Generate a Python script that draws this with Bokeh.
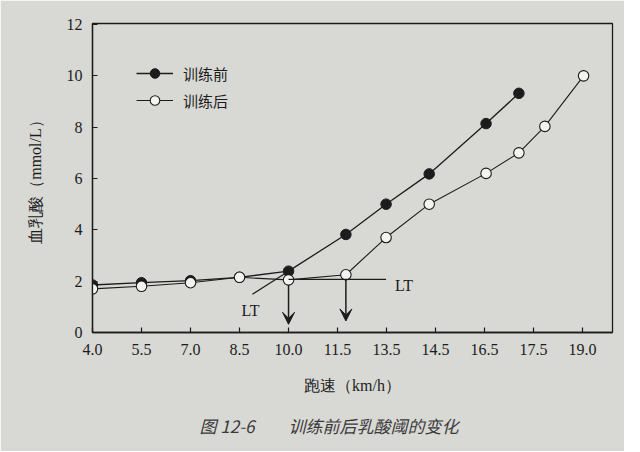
from bokeh.plotting import figure
from bokeh.models import (Range1d, FixedTicker, Legend, LegendItem, Arrow, VeeHead,
                          Title, Label)
from bokeh.embed import file_html
from bokeh.resources import INLINE

# ---- data (x given in tick-slot units; tick labels are the running speeds) ----
speed_labels = ["4.0", "5.5", "7.0", "8.5", "10.0", "11.5", "13.5", "14.5", "16.5", "17.5", "19.0"]
before_x = [0, 1, 2, 3, 4, 5.17, 5.99, 6.87, 8.03, 8.70]
before_y = [1.85, 1.94, 2.02, 2.15, 2.39, 3.82, 5.0, 6.18, 8.14, 9.32]
after_x = [0, 1, 2, 3, 4, 5.17, 5.99, 6.87, 8.03, 8.70, 9.23, 10.02]
after_y = [1.70, 1.80, 1.94, 2.15, 2.05, 2.25, 3.70, 5.0, 6.2, 7.0, 8.03, 10.0]
series_names = ["训练前", "训练后"]
lt_before_idx = 4   # LT point before training (10.0 km/h)
lt_after_idx = 5    # LT point after training (11.5 km/h)

INK = "#1c1c1c"
BG = "#d8d8d4"
SERIF = "Liberation Serif"

p = figure(frame_width=520, frame_height=309, output_backend="svg", toolbar_location=None,
           x_range=Range1d(0, 10.61), y_range=Range1d(0, 12.04),
           min_border_left=92, min_border_right=12, min_border_top=23, min_border_bottom=104)
p.background_fill_color = BG
p.border_fill_color = BG
p.outline_line_color = INK
p.outline_line_width = 1.3
p.grid.visible = False

# axes
p.xaxis.ticker = FixedTicker(ticks=list(range(len(speed_labels))))
p.xaxis.major_label_overrides = {i: s for i, s in enumerate(speed_labels)}
p.yaxis.ticker = FixedTicker(ticks=[0, 2, 4, 6, 8, 10, 12])
for ax in (p.xaxis, p.yaxis):
    ax.axis_line_color = INK
    ax.axis_line_width = 1.3
    ax.major_tick_line_color = INK
    ax.major_tick_line_width = 1.2
    ax.major_tick_in = 5
    ax.major_tick_out = 0
    ax.minor_tick_line_color = None
    ax.major_label_text_font = SERIF
    ax.major_label_text_font_size = "16px"
    ax.major_label_text_color = INK
    ax.axis_label_text_font = SERIF
    ax.axis_label_text_font_size = "16px"
    ax.axis_label_text_font_style = "normal"
    ax.axis_label_text_color = INK
p.xaxis.major_label_standoff = 11
p.yaxis.major_label_standoff = 10
p.xaxis.axis_label = "跑速（km/h）"
p.yaxis.axis_label = "血乳酸（mmol/L）"
p.xaxis.axis_label_standoff = 19
p.yaxis.axis_label_standoff = 20

# series
r1l = p.line(before_x, before_y, line_color=INK, line_width=1.3)
r1m = p.scatter(before_x, before_y, marker="circle", size=10.5, fill_color=INK, line_color=INK)
r2l = p.line(after_x, after_y, line_color=INK, line_width=1.1)
r2m = p.scatter(after_x, after_y, marker="circle", size=10.5, fill_color="#f3f3f0",
                line_color=INK, line_width=1.1)

# LT construction line (before): extension of the rising segment below the LT point
i = lt_before_idx
dx = before_x[i + 1] - before_x[i]
dy = before_y[i + 1] - before_y[i]
ext = 0.63
p.line([before_x[i] - ext * dx, before_x[i]], [before_y[i] - ext * dy, before_y[i]],
       line_color=INK, line_width=1.1)
p.add_layout(Label(x=before_x[i] - ext * dx - 0.04, y=before_y[i] - ext * dy - 0.63, text="LT",
                   text_font=SERIF, text_font_size="16px", text_color=INK,
                   text_align="center", text_baseline="middle"))

# LT construction line (after): horizontal baseline
j = lt_after_idx
base_y = after_y[j - 1] + 0.02
p.line([after_x[j - 1], after_x[j + 1]], [base_y, base_y], line_color=INK, line_width=1.1)
p.add_layout(Label(x=after_x[j + 1] + 0.18, y=base_y - 0.24, text="LT",
                   text_font=SERIF, text_font_size="16px", text_color=INK,
                   text_align="left", text_baseline="middle"))

# arrows pointing to the LT speeds
for ax_, ay_, tip in ((after_x[lt_before_idx], after_y[lt_before_idx], 0.32),
                      (after_x[lt_after_idx], after_y[lt_after_idx], 0.45)):
    p.add_layout(Arrow(end=VeeHead(size=12, fill_color=INK, line_color=INK, line_width=1),
                       x_start=ax_, y_start=ay_ - 0.2, x_end=ax_, y_end=tip,
                       line_color=INK, line_width=1.5))

# legend
legend = Legend(items=[LegendItem(label=series_names[0], renderers=[r1l, r1m]),
                       LegendItem(label=series_names[1], renderers=[r2l, r2m])],
                location=(44, 220), orientation="vertical",
                glyph_width=37, glyph_height=24, label_height=24, spacing=3,
                label_standoff=10, padding=0, margin=0,
                background_fill_alpha=0, border_line_alpha=0,
                label_text_font="Noto Sans CJK SC", label_text_font_size="15px",
                label_text_color=INK)
p.add_layout(legend, "center")

# caption
cap = Title(text="图 12-6\u3000\u3000训练前后乳酸阈的变化", align="left", offset=107,
            text_font="Noto Sans CJK SC", text_font_style="italic",
            text_font_size="17px", text_color="#3a3a3a", standoff=28)
p.add_layout(cap, "below")

open("out.html", "w").write(file_html(p, INLINE))
